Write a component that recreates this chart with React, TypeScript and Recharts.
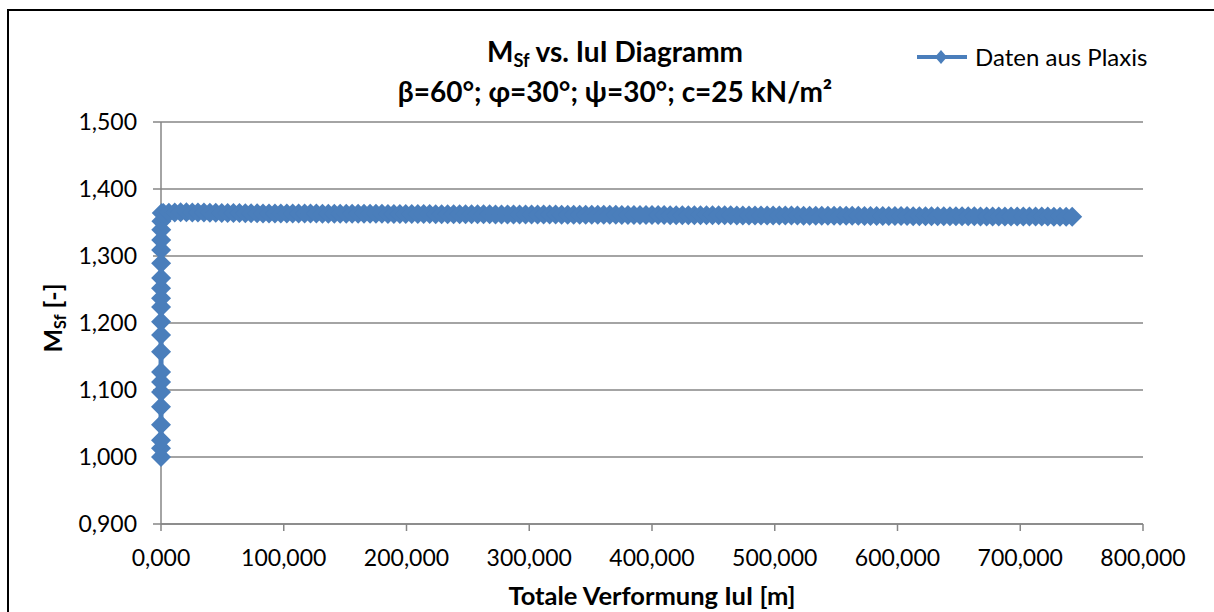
import React from 'react';
import { ScatterChart, Scatter, XAxis, YAxis, CartesianGrid } from 'recharts';

// Plaxis phi-c reduction: total displacement |u| [m] vs. Msf [-]
// loading branch (displacement still close to zero)
const dispLoading = [
  0.012, 0.014, 0.016, 0.019, 0.022, 0.026, 0.029, 0.032, 0.038, 0.045, 0.051,
  0.059, 0.065, 0.072, 0.081, 0.098, 0.121, 0.152, 0.203, 0.318, 0.612,
];
const msfLoading = [
  1.0, 1.013, 1.025, 1.048, 1.075, 1.097, 1.112, 1.127, 1.157, 1.182, 1.202,
  1.224, 1.237, 1.252, 1.267, 1.289, 1.309, 1.324, 1.339, 1.352, 1.364,
];

// failure branch (displacement grows, Msf stays nearly constant)
const dispFailure = [
  1.9, 6.4, 11.2, 16.0, 20.7, 25.5, 30.1, 35.0, 39.8, 44.6,
  49.5, 54.3, 59.0, 63.9, 68.7, 73.4, 78.3, 83.1, 88.0, 92.8,
  97.6, 102.5, 107.3, 112.1, 117.0, 121.8, 126.6, 131.5, 136.3, 141.2,
  146.0, 150.9, 155.7, 160.6, 165.4, 170.3, 175.1, 180.0, 184.9, 189.7,
  194.6, 199.4, 204.3, 209.2, 214.0, 218.9, 223.8, 228.6, 233.5, 238.4,
  243.3, 248.1, 253.0, 257.9, 262.8, 267.7, 272.5, 277.4, 282.3, 287.2,
  292.1, 297.0, 301.9, 306.8, 311.7, 316.6, 321.5, 326.4, 331.3, 336.2,
  341.1, 346.0, 350.9, 355.8, 360.7, 365.6, 370.5, 375.4, 380.4, 385.3,
  390.2, 395.1, 400.0, 405.0, 409.9, 414.8, 419.7, 424.7, 429.6, 434.5,
  439.5, 444.4, 449.3, 454.3, 459.2, 464.1, 469.1, 474.0, 479.0, 483.9,
  488.8, 493.8, 498.7, 503.7, 508.6, 513.6, 518.5, 523.5, 528.4, 533.4,
  538.3, 543.3, 548.3, 553.2, 558.2, 563.1, 568.1, 573.1, 578.0, 583.0,
  588.0, 592.9, 597.9, 602.9, 607.8, 612.8, 617.8, 622.8, 627.7, 632.7,
  637.7, 642.7, 647.6, 652.6, 657.6, 662.6, 667.6, 672.6, 677.5, 682.5,
  687.5, 692.5, 697.5, 702.5, 707.5, 712.5, 717.5, 722.4, 727.4, 732.4,
  737.4, 742.3,
];
const msfFailure = [
  1.3641, 1.3646, 1.365, 1.3652, 1.3652, 1.3651, 1.365, 1.3648, 1.3646, 1.3645,
  1.3643, 1.3642, 1.3641, 1.364, 1.3639, 1.3638, 1.3637, 1.3636, 1.3636, 1.3635,
  1.3635, 1.3634, 1.3634, 1.3634, 1.3633, 1.3633, 1.3633, 1.3632, 1.3632, 1.3632,
  1.3631, 1.3631, 1.363, 1.363, 1.363, 1.3629, 1.3629, 1.3629, 1.3628, 1.3628,
  1.3628, 1.3627, 1.3627, 1.3626, 1.3626, 1.3626, 1.3625, 1.3625, 1.3625, 1.3624,
  1.3624, 1.3623, 1.3623, 1.3623, 1.3622, 1.3622, 1.3621, 1.3621, 1.3621, 1.362,
  1.362, 1.362, 1.3619, 1.3619, 1.3618, 1.3618, 1.3618, 1.3617, 1.3617, 1.3617,
  1.3616, 1.3616, 1.3615, 1.3615, 1.3615, 1.3614, 1.3614, 1.3613, 1.3613, 1.3613,
  1.3612, 1.3612, 1.3612, 1.3611, 1.3611, 1.361, 1.361, 1.361, 1.3609, 1.3609,
  1.3609, 1.3608, 1.3608, 1.3607, 1.3607, 1.3607, 1.3606, 1.3606, 1.3606, 1.3605,
  1.3605, 1.3604, 1.3604, 1.3604, 1.3603, 1.3603, 1.3603, 1.3602, 1.3602, 1.3601,
  1.3601, 1.3601, 1.36, 1.36, 1.3599, 1.3599, 1.3599, 1.3598, 1.3598, 1.3598,
  1.3597, 1.3597, 1.3597, 1.3596, 1.3596, 1.3595, 1.3595, 1.3595, 1.3594, 1.3594,
  1.3594, 1.3593, 1.3593, 1.3593, 1.3592, 1.3592, 1.3591, 1.3591, 1.3591, 1.359,
  1.359, 1.359, 1.3589, 1.3589, 1.3589, 1.3588, 1.3588, 1.3588, 1.3587, 1.3587,
  1.3587, 1.3586,
];

const xTicks = [0, 100, 200, 300, 400, 500, 600, 700, 800];
const yTicks = [0.9, 1.0, 1.1, 1.2, 1.3, 1.4, 1.5];

const BLUE = '#4a7ebb';
const GRID = '#868686';
const FONT = 'Lato, "Open Sans", sans-serif';

const allDisp = [...dispLoading, ...dispFailure];
const allMsf = [...msfLoading, ...msfFailure];
const data = allDisp.map((u, i) => ({ u, msf: allMsf[i] }));

// german decimal comma, three places
const fmt = (v: number) => v.toFixed(3).replace('.', ',');

const Diamond = (props: any) => {
  const { cx, cy } = props;
  if (cx == null || cy == null) return null;
  const r = 10;
  return (
    <polygon
      points={`${cx},${cy - r} ${cx + r},${cy} ${cx},${cy + r} ${cx - r},${cy}`}
      fill={BLUE}
    />
  );
};

const sub: React.CSSProperties = { fontSize: '0.65em', verticalAlign: '-0.25em', lineHeight: 0 };

export default function App() {
  return (
    <div
      style={{
        position: 'fixed',
        left: 0,
        top: 0,
        width: 1214,
        height: 612,
        overflow: 'hidden',
        background: '#fff',
        fontFamily: FONT,
        color: '#000',
      }}
    >
      <div
        style={{
          position: 'absolute',
          left: 7,
          top: 9,
          width: 1240,
          height: 640,
          border: '2px solid #000',
        }}
      />

      <ScatterChart
        width={1214}
        height={612}
        margin={{ top: 122, right: 71, bottom: 28, left: 0 }}
        style={{ position: 'absolute', left: 0, top: 0 }}
      >
        <CartesianGrid vertical={false} stroke={GRID} strokeWidth={1.5} />
        <XAxis
          type="number"
          dataKey="u"
          domain={[0, 800]}
          ticks={xTicks}
          tickFormatter={fmt}
          height={60}
          tickSize={7}
          tickMargin={19}
          axisLine={{ stroke: GRID, strokeWidth: 1.5 }}
          tickLine={{ stroke: GRID, strokeWidth: 1.5 }}
          tick={{ fill: '#000', fontSize: 23, fontFamily: FONT }}
          interval={0}
        />
        <YAxis
          type="number"
          dataKey="msf"
          domain={[0.9, 1.5]}
          ticks={yTicks}
          tickFormatter={fmt}
          width={161}
          tickSize={8}
          tickMargin={16}
          axisLine={{ stroke: GRID, strokeWidth: 1.5 }}
          tickLine={{ stroke: GRID, strokeWidth: 1.5 }}
          tick={{ fill: '#000', fontSize: 23, fontFamily: FONT }}
          interval={0}
        />
        <Scatter
          name="Daten aus Plaxis"
          data={data}
          fill={BLUE}
          line={{ stroke: BLUE, strokeWidth: 5 }}
          shape={Diamond}
          isAnimationActive={false}
        />
      </ScatterChart>

      {/* title */}
      <div
        style={{
          position: 'absolute',
          left: 0,
          top: 31,
          width: 1230,
          textAlign: 'center',
          fontSize: 28,
          fontWeight: 700,
          lineHeight: '40px',
        }}
      >
        <div>
          M<span style={sub}>Sf</span> vs. IuI Diagramm
        </div>
        <div>β=60°; φ=30°; ψ=30°; c=25 kN/m²</div>
      </div>

      {/* legend */}
      <svg
        width={54}
        height={20}
        style={{ position: 'absolute', left: 915, top: 47 }}
      >
        <line x1={2} y1={10} x2={52} y2={10} stroke={BLUE} strokeWidth={4} />
        <polygon points="26,3 32,10 26,17 20,10" fill={BLUE} />
      </svg>
      <div
        style={{
          position: 'absolute',
          left: 975,
          top: 43,
          fontSize: 24,
          lineHeight: '28px',
          whiteSpace: 'nowrap',
        }}
      >
        Daten aus Plaxis
      </div>

      {/* axis titles */}
      <div
        style={{
          position: 'absolute',
          left: 652,
          top: 581,
          transform: 'translateX(-50%)',
          fontSize: 25.5,
          fontWeight: 700,
          lineHeight: '28px',
          whiteSpace: 'nowrap',
        }}
      >
        Totale Verformung IuI [m]
      </div>
      <div
        style={{
          position: 'absolute',
          left: 52,
          top: 318,
          transform: 'translate(-50%, -50%) rotate(-90deg)',
          fontSize: 25,
          fontWeight: 700,
          lineHeight: '28px',
          whiteSpace: 'nowrap',
        }}
      >
        M<span style={sub}>Sf</span> [-]
      </div>
    </div>
  );
}
